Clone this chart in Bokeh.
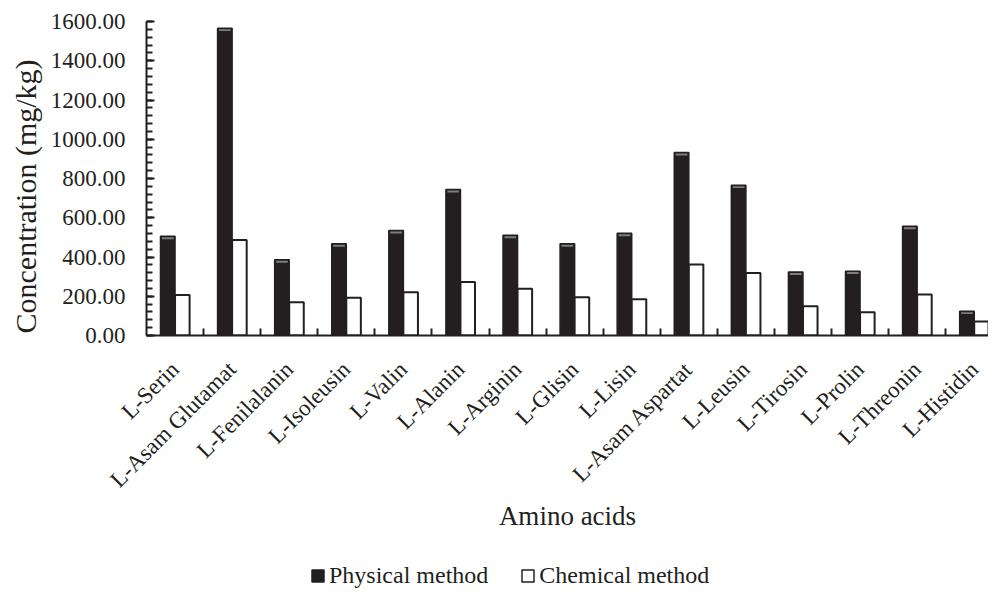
import math
from bokeh.plotting import figure
from bokeh.layouts import column
from bokeh.models import (ColumnDataSource, Range1d, FixedTicker, SingleIntervalTicker,
                          PrintfTickFormatter, Legend, LegendItem, Title)
from bokeh.embed import file_html
from bokeh.resources import INLINE

categories = ["L-Serin", "L-Asam Glutamat", "L-Fenilalanin", "L-Isoleusin", "L-Valin",
              "L-Alanin", "L-Arginin", "L-Glisin", "L-Lisin", "L-Asam Aspartat",
              "L-Leusin", "L-Tirosin", "L-Prolin", "L-Threonin", "L-Histidin"]
physical = [506, 1566, 386, 467, 535, 744, 511, 467, 521, 932, 766, 323, 328, 557, 124]
chemical = [207, 486, 170, 192, 221, 272, 238, 195, 185, 362, 318, 149, 119, 209, 71]
series_names = ["Physical method", "Chemical method"]
y_major_interval = 200

INK = "#231f20"
FONT = "Liberation Serif"
BW = 0.255

centers = [i + 0.5 for i in range(len(categories))]
boundaries = [i for i in range(1, len(categories))]

src = ColumnDataSource(dict(
    xp=[c - BW / 2 for c in centers],
    xc=[c + BW / 2 for c in centers],
    physical=physical,
    chemical=chemical,
    strip_top=[v - 5 for v in physical],
    strip_bot=[v - 15 for v in physical],
))

p = figure(width=988, height=560, x_range=Range1d(0, 14.75), y_range=Range1d(0, 1600),
           output_backend="svg", toolbar_location=None,
           min_border_left=144, min_border_top=21, min_border_bottom=225, min_border_right=0)
p.outline_line_color = None
p.xgrid.grid_line_color = None
p.ygrid.grid_line_color = None
p.background_fill_color = "white"

p.vbar(x="xp", top="physical", width=BW, source=src,
       fill_color=INK, line_color=INK, line_width=1.5)
p.vbar(x="xp", top="strip_top", bottom="strip_bot", width=BW - 0.05, source=src,
       fill_color="#7d7d7d", line_color=None)
p.vbar(x="xc", top="chemical", width=BW, source=src,
       fill_color="white", line_color=INK, line_width=2)

# x axis
xa = p.xaxis[0]
xa.ticker = FixedTicker(ticks=centers, minor_ticks=boundaries)
xa.major_label_overrides = {c: n for c, n in zip(centers, categories)}
xa.major_label_orientation = math.pi / 4
xa.major_tick_in = 0
xa.major_tick_out = 0
xa.minor_tick_in = 7
xa.minor_tick_out = 0
xa.minor_tick_line_width = 2
xa.minor_tick_line_color = INK
xa.axis_line_width = 2
xa.axis_line_color = INK
xa.major_label_text_font = FONT
xa.major_label_text_font_size = "23px"
xa.major_label_text_color = INK
xa.major_label_standoff = 30
xa.axis_label = "Amino acids"
xa.axis_label_text_font = FONT
xa.axis_label_text_font_size = "27px"
xa.axis_label_text_font_style = "normal"
xa.axis_label_text_color = INK
xa.axis_label_standoff = -3

# y axis
ya = p.yaxis[0]
ya.ticker = SingleIntervalTicker(interval=y_major_interval, num_minor_ticks=5)
ya.formatter = PrintfTickFormatter(format="%.2f")
ya.major_tick_in = 8
ya.major_tick_out = 0
ya.minor_tick_in = 6
ya.minor_tick_out = 0
ya.major_tick_line_width = 2
ya.minor_tick_line_width = 2
ya.major_tick_line_color = INK
ya.minor_tick_line_color = INK
ya.axis_line_width = 2
ya.axis_line_color = INK
ya.major_label_text_font = FONT
ya.major_label_text_font_size = "23px"
ya.major_label_text_color = INK
ya.major_label_standoff = 21

ytitle = Title(text="Concentration (mg/kg)", align="left", offset=2,
               text_font=FONT, text_font_size="30px", text_font_style="normal",
               text_color=INK, standoff=12)
p.add_layout(ytitle, "left")

# legend strip (separate figure so the legend is not clipped by the plot frame)
p2 = figure(width=988, height=29, x_range=Range1d(0, 1), y_range=Range1d(-2, -1),
            output_backend="svg", toolbar_location=None,
            x_axis_location=None, y_axis_location=None, min_border=0)
p2.outline_line_color = None
p2.xgrid.grid_line_color = None
p2.ygrid.grid_line_color = None
lr1 = p2.vbar(x="xp", top="physical", width=BW, source=src, visible=False,
              fill_color=INK, line_color=INK, line_width=1.5)
lr2 = p2.vbar(x="xc", top="chemical", width=BW, source=src, visible=False,
              fill_color="white", line_color=INK, line_width=1.5)
legend = Legend(items=[LegendItem(label=series_names[0], renderers=[lr1]),
                       LegendItem(label=series_names[1], renderers=[lr2])],
                orientation="horizontal", location=(164, 0),
                border_line_alpha=0, background_fill_alpha=0,
                inactive_fill_alpha=0,
                padding=0, margin=0, spacing=32, label_standoff=4,
                glyph_width=15, glyph_height=15,
                label_text_font=FONT, label_text_font_size="24px", label_text_color=INK)
p2.add_layout(legend)

layout = column(p, p2, spacing=0)
open("out.html", "w").write(file_html(layout, INLINE))
